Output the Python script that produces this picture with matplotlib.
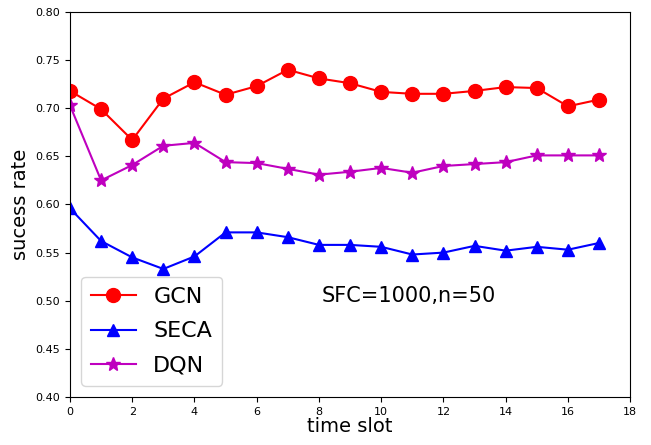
import matplotlib
matplotlib.use("Agg")
import matplotlib.pyplot as plt

slots = list(range(18))
gcn = [0.718, 0.699, 0.667, 0.710, 0.727, 0.714, 0.723, 0.740, 0.731, 0.726,
       0.717, 0.715, 0.715, 0.718, 0.722, 0.721, 0.702, 0.709]
seca = [0.596, 0.562, 0.545, 0.533, 0.546, 0.571, 0.571, 0.566, 0.558, 0.558,
        0.556, 0.548, 0.550, 0.557, 0.552, 0.556, 0.553, 0.560]
dqn = [0.703, 0.625, 0.641, 0.661, 0.664, 0.644, 0.643, 0.637, 0.631, 0.634,
       0.638, 0.633, 0.640, 0.642, 0.644, 0.651, 0.651, 0.651]

fig = plt.figure(figsize=(6.51, 4.45), dpi=100)
ax = fig.add_axes([0.1075, 0.108, 0.8605, 0.865])

ax.plot(slots, gcn, "r-o", markersize=10, label="GCN")
ax.plot(slots, seca, "b-^", markersize=9, label="SECA")
ax.plot(slots, dqn, "m-*", markersize=10, label="DQN")

ax.set_xlim(0, 18)
ax.set_ylim(0.40, 0.80)
ax.set_xticks(range(0, 19, 2))
ax.tick_params(labelsize=8)
ax.set_xlabel("time slot", fontsize=14, labelpad=0)
ax.set_ylabel("sucess rate", fontsize=14)
ax.text(10.9, 0.505, "SFC=1000,n=50", fontsize=15, ha="center", va="center")
ax.legend(loc="lower left", fontsize=16, borderaxespad=0.5, handlelength=2.0,
          labelspacing=0.65, borderpad=0.45)

fig.savefig("out.png", dpi=100)
